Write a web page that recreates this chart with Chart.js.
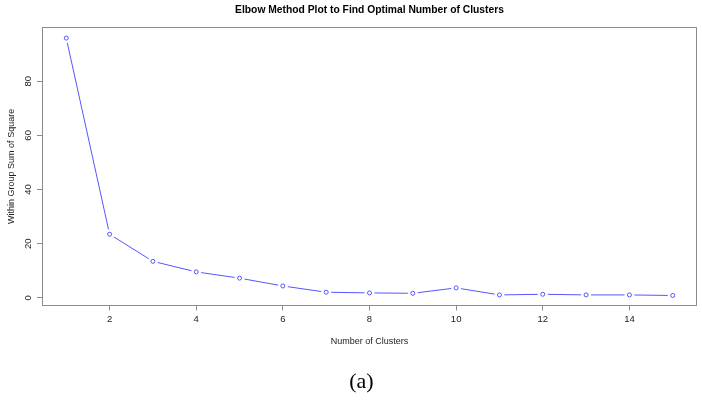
<!DOCTYPE html>
<html>
<head>
<meta charset="utf-8">
<script src="https://cdn.jsdelivr.net/npm/chart.js@4.4.1/dist/chart.umd.min.js"></script>
<style>
  body { margin: 0; background: #fff; }
  #wrap { position: relative; width: 702px; height: 402px; }
  #caption {
    position: absolute; left: 21px; right: 0; top: 368px;
    text-align: center; line-height: 24px;
    font: 22px 'Liberation Serif', 'Times New Roman', serif; color: #000;
  }
</style>
</head>
<body>
<div id="wrap">
  <canvas id="codoChart" width="702" height="402"></canvas>
  <div id="caption">(a)</div>
</div>
<script>
// datos
const clusters = [1, 2, 3, 4, 5, 6, 7, 8, 9, 10, 11, 12, 13, 14, 15];
const wss = [95.9, 23.5, 13.5, 9.6, 7.3, 4.4, 2.1, 1.85, 1.7, 3.7, 1.1, 1.35, 1.1, 1.1, 0.9];
const xTicks = [2, 4, 6, 8, 10, 12, 14];
const yTicks = [0, 20, 40, 60, 80];

const puntos = clusters.map((c, i) => ({ x: c, y: wss[i] }));
const azul = 'rgb(85, 85, 255)';
const gris = '#8c8c8c';
const fuente = "'Liberation Sans', Arial, sans-serif";

// caja alrededor del area del grafico (como en R)
const marco = {
  id: 'marco',
  afterDatasetsDraw(chart) {
    const { ctx, chartArea: a } = chart;
    const l = Math.round(a.left) + 0.5, t = Math.round(a.top) + 0.5;
    const r = Math.round(a.right) - 0.5, b = Math.round(a.bottom) - 0.5;
    ctx.save();
    ctx.strokeStyle = gris;
    ctx.lineWidth = 1;
    ctx.strokeRect(l, t, r - l, b - t);
    ctx.restore();
  }
};

const ctx = document.getElementById('codoChart').getContext('2d');

new Chart(ctx, {
  type: 'scatter',
  data: {
    datasets: [
      { data: puntos, showLine: true, borderColor: azul, borderWidth: 1, pointRadius: 0, order: 3 },
      { data: puntos, showLine: false, pointRadius: 5, pointBorderWidth: 0, pointBackgroundColor: '#fff', order: 2 },
      { data: puntos, showLine: false, pointRadius: 2, pointBorderWidth: 1, pointBorderColor: azul, pointBackgroundColor: '#fff', order: 1 }
    ]
  },
  options: {
    responsive: false,
    animation: false,
    layout: { padding: { left: 0, right: 0, top: 0, bottom: 34 } },
    plugins: {
      legend: { display: false },
      tooltip: { enabled: false },
      title: {
        display: true,
        fullSize: false,
        text: 'Elbow Method Plot to Find Optimal Number of Clusters',
        color: '#000',
        font: { family: fuente, size: 10.3, weight: 'bold' },
        padding: { top: 3.5, bottom: 11.4 }
      }
    },
    scales: {
      x: {
        type: 'linear',
        min: 0.44,
        max: 15.56,
        afterBuildTicks: s => { s.ticks = xTicks.map(v => ({ value: v })); },
        afterFit: s => { s.height = 62.5; s.paddingLeft = 0; s.paddingRight = 0; },
        grid: { drawOnChartArea: false, drawTicks: true, tickLength: 5, color: gris },
        border: { display: false },
        ticks: { padding: 3, color: '#222', maxRotation: 0, autoSkip: false, font: { family: fuente, size: 9.5 } },
        title: { display: true, text: 'Number of Clusters', color: '#222', font: { family: fuente, size: 9 }, padding: { top: 0, bottom: 21.5 } }
      },
      y: {
        min: -2.8,
        max: 99.9,
        afterBuildTicks: s => { s.ticks = yTicks.map(v => ({ value: v })); },
        afterFit: s => { s.width = 42; s.paddingTop = 0; s.paddingBottom = 0; },
        grid: { drawOnChartArea: false, drawTicks: true, tickLength: 5, color: gris },
        border: { display: false },
        ticks: { padding: 3, color: '#222', minRotation: 90, maxRotation: 90, crossAlign: 'center', autoSkip: false, font: { family: fuente, size: 9.5 } },
        title: { display: true, text: 'Within Group Sum of Square', color: '#222', font: { family: fuente, size: 9 }, padding: { top: 6.5, bottom: 0 } }
      }
    }
  },
  plugins: [marco]
});
</script>
</body>
</html>
